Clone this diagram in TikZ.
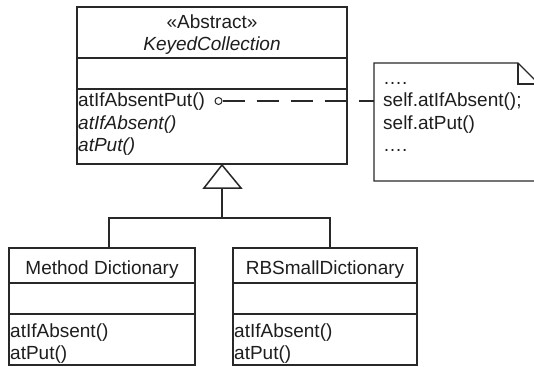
\documentclass[tikz,border=0pt]{standalone}
\usepackage{fontspec}
\setmainfont{Liberation Sans}
\definecolor{linec}{RGB}{40,40,40}
\definecolor{textc}{RGB}{30,30,30}
\begin{document}
\begin{tikzpicture}[x=1pt,y=-1pt,
  box/.style={draw=linec, line width=1.2pt, inner sep=0pt, fill=white, rectangle},
  sep/.style={draw=linec, line width=1.2pt},
  txt/.style={inner sep=0pt, anchor=base west, font=\fontsize{19}{22}\selectfont, text=textc},
  ctxt/.style={inner sep=0pt, anchor=base, font=\fontsize{19}{22}\selectfont, text=textc},
  gen/.style={draw=linec, line width=1.8pt},
  dashline/.style={draw=linec, line width=1.2pt, dash pattern=on 22pt off 12pt},
]
\useasboundingbox (0,0) rectangle (534,366);
\clip (0,0) rectangle (534,366);

% abstract class
\node[box, minimum width=270pt, minimum height=157pt] (kc) at (212,85.5) {};
\draw[sep] (77,58) -- (347,58);
\draw[sep] (77,89) -- (347,89);
\node[ctxt] (kcst) at (212,29) {«Abstract»};
\node[ctxt] (kcname) at (212,51) {\itshape KeyedCollection};
\node[txt] (m1) at (78,107) {atIfAbsentPut()};
\node[txt] (m2) at (78,129) {\itshape atIfAbsent()};
\node[txt] (m3) at (78,151) {\itshape atPut()};

% note
\coordinate (nA) at (374,63);
\coordinate (nB) at (518,63);
\coordinate (nC) at (539,84);
\coordinate (nD) at (539,181);
\coordinate (nE) at (374,181);
\coordinate (nF) at (518,84);
\draw[draw=linec, line width=1.2pt, fill=white] (nA) -- (nB) -- (nC) -- (nD) -- (nE) -- cycle;
\draw[draw=linec, line width=1.2pt] (nB) -- (nF) -- (nC);
\node[txt] (n1) at (383,85) {….};
\node[txt] (n2) at (383,107) {self.atIfAbsent();};
\node[txt] (n3) at (383,129) {self.atPut()};
\node[txt] (n4) at (383,151) {….};

% implementation link
\node[draw=linec, circle, inner sep=0pt, minimum size=7pt, line width=1pt] (ball) at (218.5,101) {};
\coordinate (notew) at (374,101);
\draw[dashline] (ball.east) -- (notew);

% subclasses
\node[box, minimum width=186pt, minimum height=117pt] (md) at (102,306.5) {};
\draw[sep] (9,283) -- (195,283);
\draw[sep] (9,314) -- (195,314);
\node[ctxt] (mdname) at (102,274) {Method Dictionary};
\node[txt] (md1) at (10,337) {atIfAbsent()};
\node[txt] (md2) at (10,359) {atPut()};

\node[box, minimum width=184pt, minimum height=117pt] (rb) at (325,306.5) {};
\draw[sep] (233,283) -- (417,283);
\draw[sep] (233,314) -- (417,314);
\node[ctxt] (rbname) at (325,274) {RBSmallDictionary};
\node[txt] (rb1) at (234,337) {atIfAbsent()};
\node[txt] (rb2) at (234,359) {atPut()};

% generalization
\coordinate (apex) at (222,165);
\coordinate (triR) at (241,188);
\coordinate (triL) at (204,188);
\coordinate (tribase) at (222,188);
\coordinate (junc) at (222,218);
\coordinate (mdtop) at (109,248);
\coordinate (rbtop) at (330,248);
\draw[draw=linec, line width=1.5pt, fill=white, line join=miter] (apex) -- (triR) -- (triL) -- cycle;
\draw[gen] (tribase) -- (junc);
\draw[gen] (junc) -| (mdtop);
\draw[gen] (junc) -| (rbtop);
\end{tikzpicture}
\end{document}
